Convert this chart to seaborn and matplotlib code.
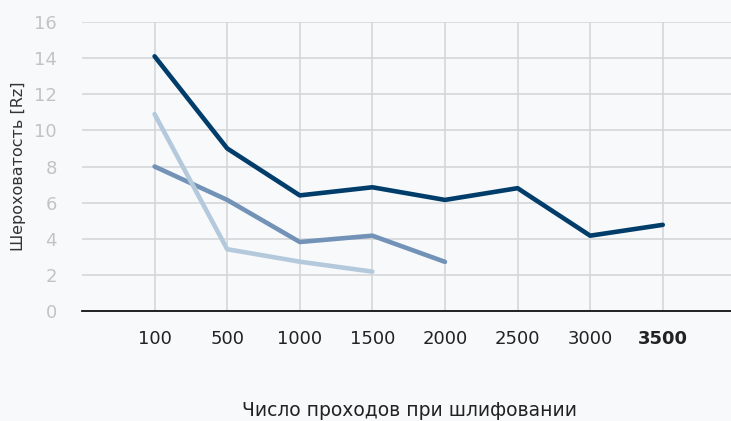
import pandas as pd
import seaborn as sns
import matplotlib.pyplot as plt

passes = ["100", "500", "1000", "1500", "2000", "2500", "3000", "3500"]
series_dark = [14.1, 9.0, 6.4, 6.85, 6.15, 6.8, 4.17, 4.77]
series_mid = [8.0, 6.15, 3.82, 4.17, 2.72]
series_light = [10.9, 3.42, 2.73, 2.18]

names = ["A", "B", "C"]
colors = {"A": "#003d6b", "B": "#7293b7", "C": "#b5c9dd"}

rows = []
for name, vals in zip(names, [series_dark, series_mid, series_light]):
    for p, v in zip(passes, vals):
        rows.append({"passes": p, "rz": v, "series": name})
df = pd.DataFrame(rows)

sns.set_style("white")
plt.rcParams["font.family"] = ["DejaVu Sans"]

bg = "#f8f9fb"
fig = plt.figure(figsize=(7.31, 4.21), dpi=100, facecolor=bg)
ax = fig.add_axes([82 / 731, 110 / 421, 649 / 731, 289 / 421])
ax.set_facecolor(bg)

sns.lineplot(data=df, x="passes", y="rz", hue="series", hue_order=["B", "C", "A"],
             palette=colors, linewidth=3.3, sort=False, legend=False, ax=ax)

ax.set_xlim(-1, 7.94)
ax.set_ylim(0, 16)
ax.set_yticks(range(0, 17, 2))
ax.grid(True, color="#d6d7d9", linewidth=1.2)
ax.set_axisbelow(True)
for s in ["top", "right", "left"]:
    ax.spines[s].set_visible(False)
ax.spines["bottom"].set_color("#111111")
ax.spines["bottom"].set_linewidth(1.3)

ax.tick_params(axis="y", length=0, labelsize=13, labelcolor="#c2c3c5", pad=18)
ax.tick_params(axis="x", length=0, labelsize=13, labelcolor="#222222", pad=14)
ax.get_xticklabels()[-1].set_fontweight("bold")

ax.set_ylabel("Шероховатость [Rz]", fontsize=11.5, color="#333333", labelpad=6)
ax.set_xlabel("Число проходов при шлифовании", fontsize=13.5, color="#222222")
ax.xaxis.set_label_coords((410 - 82) / 649, -(401 - 311) / 289)

fig.savefig("out.png", dpi=100, facecolor=bg)
